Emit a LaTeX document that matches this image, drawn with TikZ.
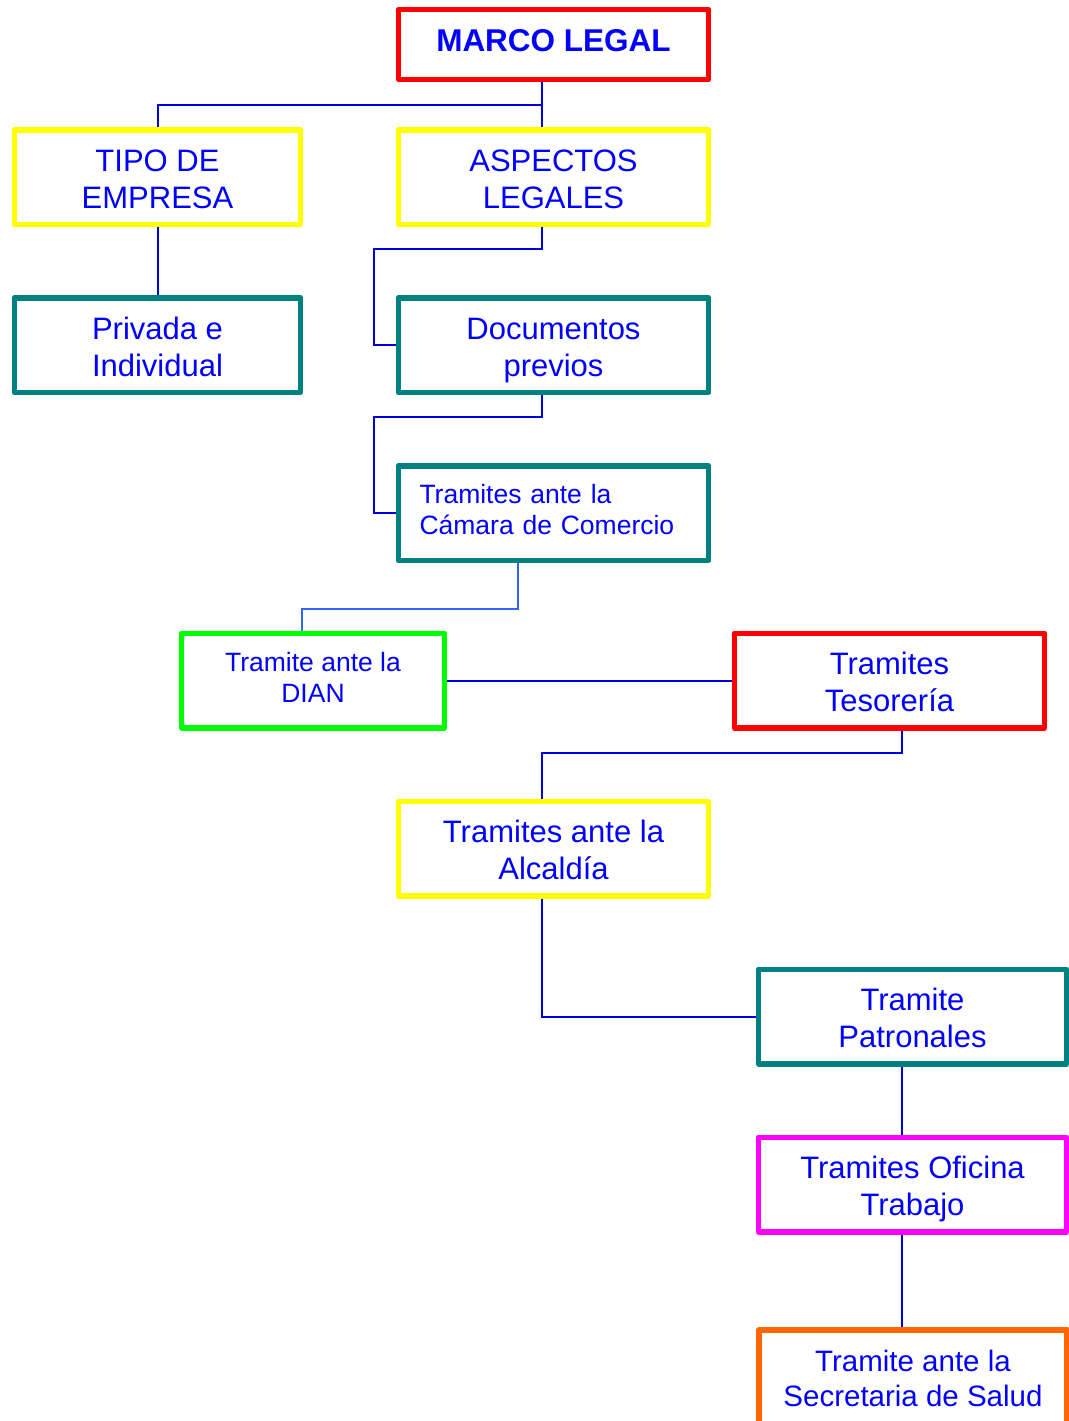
\documentclass[tikz,border=0pt]{standalone}
\usepackage{fontspec}
\setmainfont{Liberation Sans}
\definecolor{tblue}{RGB}{0,0,255}
\definecolor{lblue}{RGB}{0,0,220}
\definecolor{sblue}{RGB}{51,102,255}
\definecolor{bred}{RGB}{255,0,0}
\definecolor{byellow}{RGB}{255,255,0}
\definecolor{bteal}{RGB}{0,128,128}
\definecolor{bgreen}{RGB}{0,255,0}
\definecolor{bmagenta}{RGB}{255,0,255}
\definecolor{borange}{RGB}{255,102,0}
\begin{document}
\begin{tikzpicture}[x=1pt,y=-1pt,
  box/.style={draw, line width=5.5pt, line join=round, fill=white, text=tblue, inner sep=0pt, align=center,
    minimum width=310pt, minimum height=94.5pt, text height=62pt, text depth=0pt,
    font=\fontsize{31}{37}\selectfont},
  conn/.style={draw=lblue, line width=2pt}]
\useasboundingbox (0,0) rectangle (1068,1421);
\fill[white] (0,0) rectangle (1068,1421);
% nodes
\node[box, draw=bred, minimum height=70pt, text height=24pt, text depth=10pt, font=\fontsize{31.5}{37}\selectfont\bfseries] (marco) at (553.5,44.5) {MARCO LEGAL};
\node[box, draw=byellow, minimum width=286pt] (tipo) at (157.5,177) {TIPO DE\\EMPRESA};
\node[box, draw=byellow] (aspectos) at (553.5,177) {ASPECTOS\\LEGALES};
\node[box, draw=bteal, minimum width=286pt] (privada) at (157.5,345) {Privada e\\Individual};
\node[box, draw=bteal] (documentos) at (553.5,345) {Documentos\\previos};
\node[box, draw=bteal, align=left, text width=268pt, inner xsep=21pt, minimum width=0pt, text height=20pt, text depth=40pt, font=\fontsize{26.5}{31.5}\selectfont] (camara) at (553.5,513) {Tramites ante la\\Cámara de Comercio};
\node[box, draw=bgreen, minimum width=263pt, text height=44pt, text depth=0pt, font=\fontsize{26.5}{31}\selectfont] (dian) at (313,680.5) {Tramite ante la\\DIAN};
\node[box, draw=bred] (tesoreria) at (889.5,680.5) {Tramites\\Tesorería};
\node[box, draw=byellow] (alcaldia) at (553.5,848.5) {Tramites ante la\\Alcaldía};
\node[box, draw=bteal, minimum width=308pt] (patronales) at (912.5,1016.5) {Tramite\\Patronales};
\node[box, draw=bmagenta, minimum width=308pt] (oficina) at (912.5,1184.5) {Tramites Oficina\\Trabajo};
\node[box, draw=borange, minimum width=308pt, text height=58pt, text depth=0pt, font=\fontsize{29.5}{35}\selectfont] (salud) at (913,1377) {Tramite ante la\\Secretaria de Salud};
% helper coordinates
\coordinate (xA) at (542,0);
\coordinate (xB) at (374,0);
\coordinate (xC) at (518,0);
\coordinate (xD) at (302,0);
\coordinate (xE) at (902,0);
\coordinate (y1) at (0,105);
\coordinate (y2) at (0,249);
\coordinate (y3) at (0,417);
\coordinate (y4) at (0,609);
\coordinate (y5) at (0,753);
% connectors
\draw[conn] (marco.south -| xA) -- (aspectos.north -| xA);
\draw[conn] (xA |- y1) -| (tipo.north);
\draw[conn] (tipo.south) -- (privada.north);
\draw[conn] (aspectos.south -| xA) -- (xA |- y2) -| (xB |- documentos.west) -- (documentos.west);
\draw[conn] (documentos.south -| xA) -- (xA |- y3) -| (xB |- camara.west) -- (camara.west);
\draw[conn, draw=sblue] (camara.south -| xC) -- (xC |- y4) -| (dian.north -| xD);
\draw[conn] (dian.east) -- (tesoreria.west);
\draw[conn] (tesoreria.south -| xE) -- (xE |- y5) -| (alcaldia.north -| xA);
\draw[conn] (alcaldia.south -| xA) |- (patronales.west);
\draw[conn] (patronales.south -| xE) -- (oficina.north -| xE);
\draw[conn] (oficina.south -| xE) -- (salud.north -| xE);
\end{tikzpicture}
\end{document}
